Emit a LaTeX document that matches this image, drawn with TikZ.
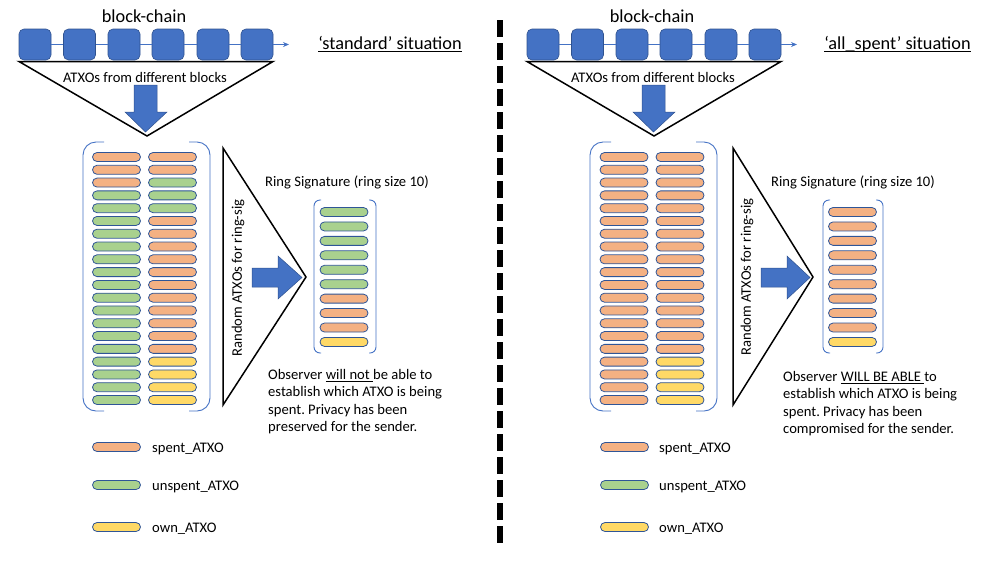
\documentclass[tikz,border=0pt]{standalone}
\usepackage{fontspec}
\setmainfont{Carlito}
\frenchspacing
\usetikzlibrary{arrows.meta}
\definecolor{blk}{HTML}{4472C4}
\definecolor{blkb}{HTML}{2F528F}
\definecolor{sp}{HTML}{F4B183}
\definecolor{un}{HTML}{A9D18E}
\definecolor{ow}{HTML}{FFD966}
\definecolor{pillb}{HTML}{2F5597}
\begin{document}
\begin{tikzpicture}[x=1pt,y=-1pt,
  blockbox/.style={draw=blkb, line width=0.6pt, fill=blk, rounded corners=5pt, minimum width=32pt, minimum height=31pt, inner sep=0pt},
  chainline/.style={draw=blk, line width=0.9pt},
  pill/.style={draw=pillb, line width=0.8pt, rounded corners=4.5pt, minimum width=48pt, minimum height=9pt, inner sep=0pt},
  brk/.style={draw=blk, line width=0.9pt},
  tri/.style={draw=black, line width=1.5pt},
  fat/.style={fill=blk, draw=blkb, line width=0.5pt},
  bigtxt/.style={font=\fontsize{18.3}{22}\selectfont, inner sep=0pt},
  smalltxt/.style={font=\fontsize{14.6}{17.4}\selectfont, inner sep=0pt},
  sep/.style={draw=black, line width=6pt, dash pattern=on 16.8pt off 6.2pt}
]
\useasboundingbox (0,0) rectangle (1000,563);

% ---------------- separator
\draw[sep] (500,20) -- (500,542.8);

% ================= LEFT PANEL =================
\node[bigtxt, anchor=base] (Lbc) at (144,22.5) {block-chain};
\foreach \i/\x in {1/35,2/79.5,3/124,4/168,5/213,6/257}
  \node[blockbox] (Lb\i) at (\x,44.5) {};
\coordinate (Lend) at (289,44.5);
\foreach \a/\b in {1/2,2/3,3/4,4/5,5/6}
  \draw[chainline] (Lb\a) -- (Lb\b);
\draw[chainline, -{Stealth[length=6pt,width=5pt]}] (Lb6) -- (Lend);
\node[bigtxt, anchor=base] (Lsit) at (390,49.5) {\underline{\smash{‘standard’ situation}}};

\draw[tri] (19,61.5) -- (273,61.5) -- (147,136) -- cycle;
\node[smalltxt, anchor=base] (Lfrom) at (145,82.5) {ATXOs from different blocks};
\fill[fat] (134,85) -- (157,85) -- (157,112) -- (167,112) -- (145.5,132) -- (125,112) -- (134,112) -- cycle;

% bracket
\draw[brk, rounded corners=13pt] (104,142) -- (83,142) -- (83,411) -- (104,411);
\draw[brk, rounded corners=13pt] (189,142) -- (210,142) -- (210,411) -- (189,411);
\foreach \c [count=\i] in {sp,sp,sp,un,un,un,un,un,un,un,un,un,un,un,un,un,un,un,un,un}
  \node[pill, fill=\c] (La\i) at (116.5,{157+(\i-1)*12.79}) {};
\foreach \c [count=\i] in {sp,sp,un,un,un,sp,sp,sp,sp,sp,sp,sp,sp,sp,sp,sp,ow,ow,ow,ow}
  \node[pill, fill=\c] (Lc\i) at (172.5,{157+(\i-1)*12.79}) {};

% selection triangle
\draw[tri] (223,148) -- (223,405) -- (306,277) -- cycle;
\node[smalltxt, rotate=90] (Lrand) at (238,278) {Random ATXOs for ring-sig};
\fill[fat] (252,268) -- (278,268) -- (278,256) -- (302,277.5) -- (278,299) -- (278,287) -- (252,287) -- cycle;

% ring signature
\node[smalltxt, anchor=base] (Lring) at (347,186) {Ring Signature (ring size 10)};
\draw[brk, rounded corners=6pt] (321,200) -- (314,200) -- (314,353) -- (321,353);
\draw[brk, rounded corners=6pt] (369,200) -- (376,200) -- (376,353) -- (369,353);
\foreach \c [count=\i] in {un,un,un,un,un,un,sp,sp,sp,ow}
  \node[pill, fill=\c] (Lr\i) at (344,{212+(\i-1)*14.44}) {};

\node[smalltxt, anchor=north west, align=left] (Lobs) at (268,369)
  {Observer \underline{\smash{will not\ }}be able to\\establish which ATXO is being\\spent. Privacy has been\\preserved for the sender.};

% legend
\node[pill, fill=sp] (Lk1) at (116.5,447) {};
\node[pill, fill=un] (Lk2) at (116.5,485) {};
\node[pill, fill=ow] (Lk3) at (116.5,527) {};
\node[smalltxt, anchor=base west] (Lt1) at (152,452) {spent\_ATXO};
\node[smalltxt, anchor=base west] (Lt2) at (152,490) {unspent\_ATXO};
\node[smalltxt, anchor=base west] (Lt3) at (152,532) {own\_ATXO};

% ================= RIGHT PANEL =================
\node[bigtxt, anchor=base] (Rbc) at (652,22.5) {block-chain};
\foreach \i/\x in {1/543,2/587.5,3/632,4/676,5/721,6/765}
  \node[blockbox] (Rb\i) at (\x,44.5) {};
\coordinate (Rend) at (797,44.5);
\foreach \a/\b in {1/2,2/3,3/4,4/5,5/6}
  \draw[chainline] (Rb\a) -- (Rb\b);
\draw[chainline, -{Stealth[length=6pt,width=5pt]}] (Rb6) -- (Rend);
\node[bigtxt, anchor=base] (Rsit) at (897.5,49.5) {\underline{\smash{‘all\_spent’ situation}}};

\draw[tri] (527,61.5) -- (781,61.5) -- (654,136) -- cycle;
\node[smalltxt, anchor=base] (Rfrom) at (653,82.5) {ATXOs from different blocks};
\fill[fat] (642,85) -- (665,85) -- (665,112) -- (675,112) -- (653.5,132) -- (633,112) -- (642,112) -- cycle;

\draw[brk, rounded corners=13pt] (611,142) -- (590,142) -- (590,411) -- (611,411);
\draw[brk, rounded corners=13pt] (696,142) -- (717,142) -- (717,411) -- (696,411);
\foreach \c [count=\i] in {sp,sp,sp,sp,sp,sp,sp,sp,sp,sp,sp,sp,sp,sp,sp,sp,sp,sp,sp,sp}
  \node[pill, fill=\c] (Ra\i) at (624,{157+(\i-1)*12.79}) {};
\foreach \c [count=\i] in {sp,sp,sp,sp,sp,sp,sp,sp,sp,sp,sp,sp,sp,sp,sp,sp,ow,ow,ow,ow}
  \node[pill, fill=\c] (Rc\i) at (680,{157+(\i-1)*12.79}) {};

\draw[tri] (733,148) -- (733,405) -- (813,277) -- cycle;
\node[smalltxt, rotate=90] (Rrand) at (747,277) {Random ATXOs for ring-sig};
\fill[fat] (761,268) -- (787,268) -- (787,256) -- (810,277.5) -- (787,299) -- (787,287) -- (761,287) -- cycle;

\node[smalltxt, anchor=base] (Rring) at (853,186) {Ring Signature (ring size 10)};
\draw[brk, rounded corners=6pt] (830,200) -- (823,200) -- (823,353) -- (830,353);
\draw[brk, rounded corners=6pt] (876,200) -- (883,200) -- (883,353) -- (876,353);
\foreach \c [count=\i] in {sp,sp,sp,sp,sp,sp,sp,sp,sp,ow}
  \node[pill, fill=\c] (Rr\i) at (852.5,{212+(\i-1)*14.44}) {};

\node[smalltxt, anchor=north west, align=left] (Robs) at (783,371)
  {Observer \underline{\smash{WILL BE ABLE\ }}to\\establish which ATXO is being\\spent. Privacy has been\\compromised for the sender.};

\node[pill, fill=sp] (Rk1) at (624.5,447) {};
\node[pill, fill=un] (Rk2) at (624.5,485) {};
\node[pill, fill=ow] (Rk3) at (624.5,527) {};
\node[smalltxt, anchor=base west] (Rt1) at (659,452) {spent\_ATXO};
\node[smalltxt, anchor=base west] (Rt2) at (659,490) {unspent\_ATXO};
\node[smalltxt, anchor=base west] (Rt3) at (659,532) {own\_ATXO};
\end{tikzpicture}
\end{document}
